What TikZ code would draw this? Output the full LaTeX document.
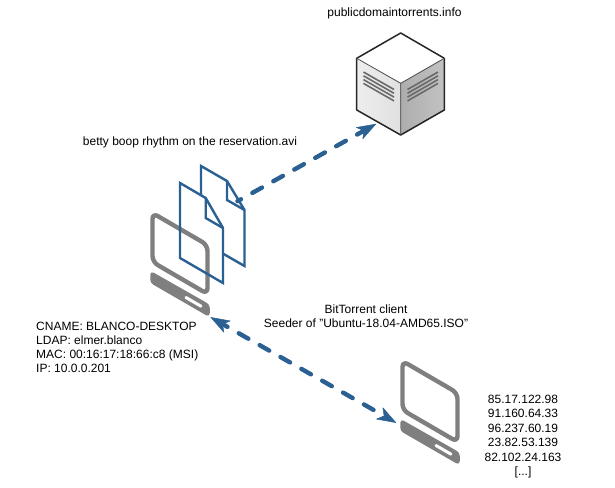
\documentclass[tikz,border=0pt]{standalone}
\usepackage{fontspec}
\setmainfont{Liberation Sans}
\usetikzlibrary{arrows.meta}
\definecolor{linkblue}{HTML}{2B6092}
\definecolor{pcgray}{HTML}{7F7F7F}
\definecolor{ventgray}{HTML}{6A6A6A}
\tikzset{
  lbl/.style={font=\fontsize{12}{14}\selectfont, inner sep=0pt, text=black},
  iplbl/.style={font=\fontsize{12}{14.4}\selectfont, inner sep=0pt, text=black},
  docline/.style={draw=linkblue, line width=2.4pt, line join=miter, miter limit=10},
  pcframe/.style={draw=pcgray, line width=4.4pt, rounded corners=6pt},
  pcbase/.style={draw=pcgray, fill=pcgray, line width=1.5pt, rounded corners=3pt},
  pcslot/.style={draw=white, line width=3pt, line cap=round},
  srvedge/.style={draw=black!85, line width=1.5pt, line join=round},
  vent/.style={draw=ventgray, line width=1.6pt},
  link/.style={draw=linkblue, line width=4.4pt, line cap=round},
  headtip/.tip={Stealth[length=20pt,width=14pt,inset=5.5pt,line width=.5pt,round,fill=linkblue]},
}
\newcommand{\pcframeshape}[2]{%
  \draw[pcframe,shift={(#1,#2)}] (152.5,213) -- (207.5,245) -- (207.5,294) -- (152.5,262) -- cycle;
  \filldraw[pcbase,shift={(#1,#2)}] (151,272) -- (209,305) -- (209,316) -- (151,282.5) -- cycle;
  \draw[pcslot,shift={(#1,#2)}] (186,297.5) -- (201,306.2);
}
\begin{document}
\begin{tikzpicture}[x=1pt,y=-1pt]
\useasboundingbox (0,0) rectangle (615,487);
\fill[white] (0,0) rectangle (615,487);
% server
\fill[white] (400.7,33) -- (444.3,58.3) -- (400.7,83.3) -- (356.7,58.3) -- cycle;
\shade[left color=black!7,right color=black!12] (356.7,58.3) -- (400.7,83.3) -- (400.7,135) -- (356.7,110) -- cycle;
\shade[left color=black!32,right color=black!24] (400.7,83.3) -- (444.3,58.3) -- (444.3,110) -- (400.7,135) -- cycle;
\draw[srvedge] (400.7,33) -- (444.3,58.3) -- (444.3,110) -- (400.7,135) -- (356.7,110) -- (356.7,58.3) -- cycle;
\draw[draw=black!70,line width=.8pt] (356.7,58.3) -- (400.7,83.3) -- (444.3,58.3) (400.7,83.3) -- (400.7,135);
\foreach \d in {0,3.8,7.6,11.4}{
  \draw[vent] (363.5,72+\d) -- (394,89.5+\d);
  \draw[vent] (438,72+\d) -- (407.5,89.5+\d);
}
% back document
\draw[docline,fill=white] (201,166) -- (227,181) -- (244.5,210) -- (244.5,266) -- (201,241) -- cycle;
\draw[docline] (227,181) -- (227,200) -- (244.5,210);
% front document fill
\fill[white] (180,183) -- (205.7,198) -- (223,228) -- (223,283) -- (180,258) -- cycle;
% computer 1
\pcframeshape{0}{0}
% front document
\draw[docline] (180,183) -- (205.7,198) -- (223,228) -- (223,283) -- (180,258) -- cycle;
\draw[docline] (205.7,198) -- (205.7,218) -- (223,228);
% computer 2
\pcframeshape{250}{148}
% anchors and links
\coordinate (docs) at (237.5,201.2);
\coordinate (server) at (376,124);
\coordinate (pcA) at (210.7,317.3);
\coordinate (pcB) at (396,422.7);
\draw[link,dash pattern=on 11pt off 13pt,dash phase=7pt,-headtip] (docs) -- (server);
\draw[link,dash pattern=on 11pt off 13pt,dash phase=5.5pt,headtip-headtip] (pcA) -- (pcB);
% labels
\node[lbl,anchor=center] (srvlabel) at (394.5,13.5) {publicdomaintorrents.info};
\node[lbl,anchor=center] (filelabel) at (190,142.5) {betty boop rhythm on the reservation.avi};
\node[lbl,anchor=north west,align=left] (hostlabel) at (36,322) {CNAME: BLANCO-DESKTOP\\LDAP: elmer.blanco\\MAC: 00:16:17:18:66:c8 (MSI)\\IP: 10.0.0.201};
\node[lbl,anchor=north,align=center] (seedlabel) at (366,305) {BitTorrent client\\Seeder of {\char34}Ubuntu-18.04-AMD65.ISO{\char34}};
\node[iplbl,anchor=north,align=center] (iplabel) at (523,395) {85.17.122.98\\91.160.64.33\\96.237.60.19\\23.82.53.139\\82.102.24.163\\{[...]}};
\end{tikzpicture}
\end{document}
